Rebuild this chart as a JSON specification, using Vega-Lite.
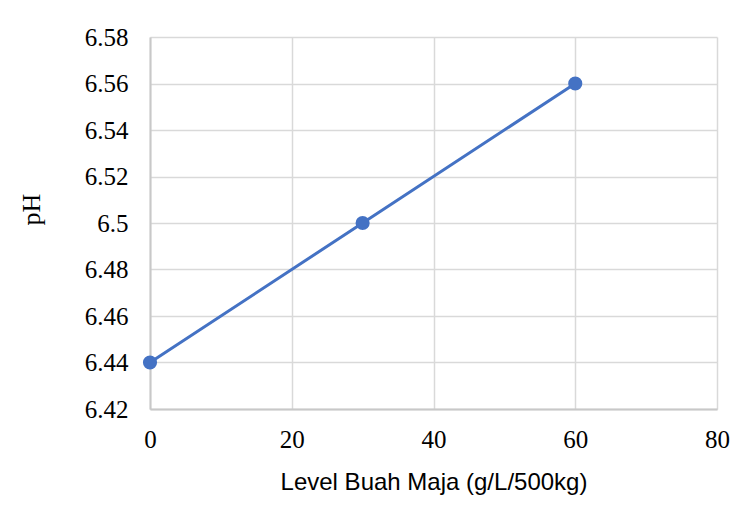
{
  "$schema": "https://vega.github.io/schema/vega-lite/v6.json",
  "width": 567,
  "height": 372,
  "autosize": {"type": "none"},
  "padding": {"left": 150, "top": 37, "right": 31, "bottom": 116},
  "background": "white",
  "data": {"values": [
    {"level": 0, "ph": 6.44},
    {"level": 30, "ph": 6.50},
    {"level": 60, "ph": 6.56}
  ]},
  "config": {
    "view": {"stroke": null},
    "axis": {
      "gridColor": "#d9d9d9",
      "gridWidth": 1.5,
      "domainColor": "#c8c8c8",
      "domainWidth": 2,
      "ticks": false,
      "labelFont": "Liberation Serif",
      "labelFontSize": 25,
      "labelColor": "#000000",
      "titleColor": "#000000",
      "titleFontWeight": "normal",
      "labelFlush": false,
      "labelOverlap": false
    }
  },
  "layer": [
    {
      "mark": {"type": "line", "color": "#4472C4", "strokeWidth": 3},
      "encoding": {
        "x": {"field": "level", "type": "quantitative",
          "scale": {"domain": [0, 80], "nice": false},
          "axis": {"values": [0, 20, 40, 60, 80], "title": "Level Buah Maja (g/L/500kg)",
            "titleFont": "Liberation Sans", "titleFontSize": 24, "labelPadding": 18, "titlePadding": 18}},
        "y": {"field": "ph", "type": "quantitative",
          "scale": {"domain": [6.42, 6.58], "nice": false, "zero": false},
          "axis": {"values": [6.42, 6.44, 6.46, 6.48, 6.5, 6.52, 6.54, 6.56, 6.58],
            "labelExpr": "format(datum.value, '.2~f')",
            "title": "pH", "titleFont": "Liberation Serif", "titleFontSize": 26, "labelPadding": 22, "titlePadding": 40, "titleY": 172}}
      }
    },
    {
      "mark": {"type": "point", "filled": true, "color": "#4472C4", "size": 200, "opacity": 1},
      "encoding": {
        "x": {"field": "level", "type": "quantitative"},
        "y": {"field": "ph", "type": "quantitative"}
      }
    }
  ]
}
